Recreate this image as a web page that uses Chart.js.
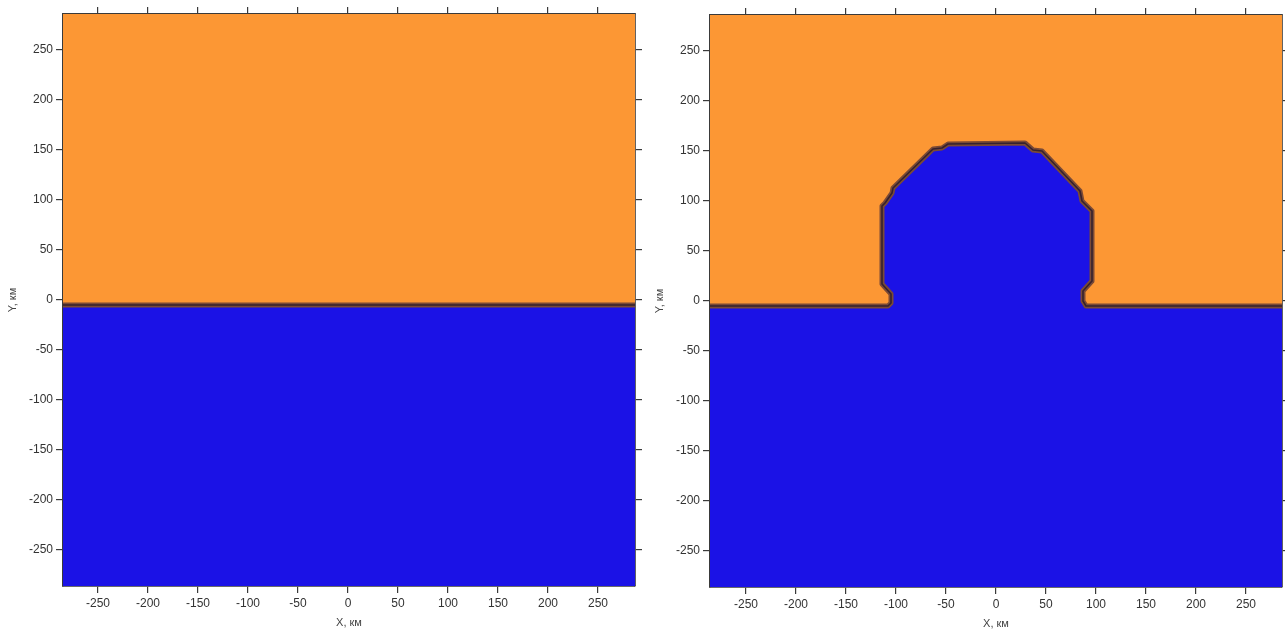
<!DOCTYPE html>
<html>
<head>
<meta charset="utf-8">
<script src="https://cdn.jsdelivr.net/npm/chart.js@4.4.1/dist/chart.umd.min.js"></script>
<style>
  html, body { margin: 0; padding: 0; background: #fff; overflow: hidden; width: 1285px; height: 630px; }
  .box { position: absolute; top: 0; width: 642px; height: 630px; }
</style>
</head>
<body>
<div class="box" style="left:0"><canvas id="left" width="642" height="630"></canvas></div>
<div class="box" style="left:647px;top:1px"><canvas id="right" width="642" height="630"></canvas></div>
<script>
// tick labels on both axes
const tickValues = [-250, -200, -150, -100, -50, 0, 50, 100, 150, 200, 250];

// left model: flat boundary
const leftX = [-285, 287];
const leftY = [-5, -5];

// right model: boundary with a bulge
const rightX = [-286, -108, -105, -105, -114, -114, -111, -104, -103, -63, -54, -48, 29, 37, 46, 84, 86, 94, 96, 96, 87, 87, 90, 286];
const rightY = [-5, -5, -2, 7, 17, 95, 98, 108, 113, 152, 153, 157, 158, 151, 150, 110, 100, 92, 90, 20, 10, 0, -5, -5];

const orange = '#fc9734';
const blue = '#1b12e6';
const frame = '#3a3a3a';
const font = 'Liberation Sans, Arial, sans-serif';

function makeAxis(pos, min, max, size, labels, title) {
    return {
        type: 'linear',
        position: pos,
        min: min,
        max: max,
        border: { display: true, color: frame, width: 1.8 },
        grid: { drawOnChartArea: false, drawTicks: true, tickLength: 7, color: frame, lineWidth: 1.2 },
        ticks: { display: labels, color: '#333', padding: 3, maxRotation: 0, font: { family: font, size: 12 } },
        title: title ? { display: true, text: title, color: '#444', padding: pos === 'left' ? { top: 6, bottom: 0 } : { top: 0, bottom: 0 }, font: { family: font, size: 11 } } : { display: false },
        afterBuildTicks: axis => { axis.ticks = tickValues.map(v => ({ value: v })); },
        afterFit: axis => {
            if (pos === 'left' || pos === 'right') axis.width = size;
            else axis.height = size;
        }
    };
}

function draw(id, xs, ys, xr, yr) {
    const pts = xs.map((x, i) => ({ x: x, y: ys[i] }));
    new Chart(document.getElementById(id), {
        type: 'line',
        data: {
            datasets: [
                { data: pts, borderColor: '#35212e', borderWidth: 1.6, pointRadius: 0, fill: false, tension: 0, borderJoinStyle: 'round' },
                { data: pts, borderColor: '#7a4a36', borderWidth: 5, pointRadius: 0, fill: 'end', backgroundColor: orange, tension: 0, borderJoinStyle: 'round' },
                { data: pts, borderWidth: 0, borderColor: blue, pointRadius: 0, fill: 'start', backgroundColor: blue, tension: 0 }
            ]
        },
        options: {
            responsive: false,
            animation: false,
            layout: { padding: 0 },
            plugins: { legend: { display: false }, tooltip: { enabled: false } },
            scales: {
                x: makeAxis('bottom', xr[0], xr[1], 44, true, 'X, км'),
                x2: makeAxis('top', xr[0], xr[1], 14, false, null),
                y: makeAxis('left', yr[0], yr[1], 63, true, 'Y, км'),
                y2: makeAxis('right', yr[0], yr[1], 7, false, null)
            }
        }
    });
}

draw('left', leftX, leftY, [-285, 287], [-286, 286]);
draw('right', rightX, rightY, [-286, 286], [-286, 286]);
</script>
</body>
</html>
